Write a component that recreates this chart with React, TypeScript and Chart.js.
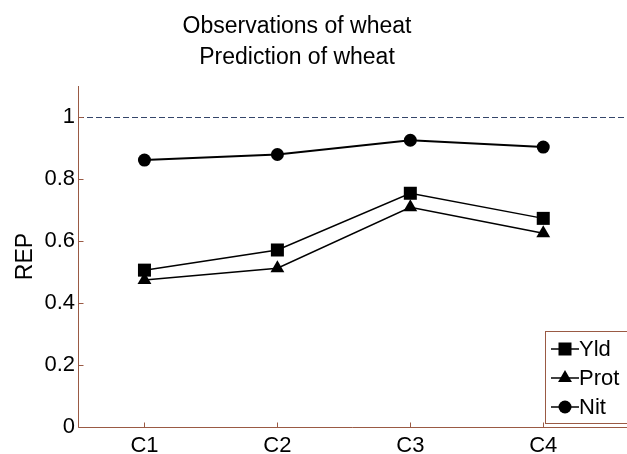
import React, { useEffect, useRef } from "react";
import { Chart, registerables } from "chart.js";

Chart.register(...registerables);

const titleLines = ["Observations of wheat", "Prediction of wheat"];
const categories = ["C1", "C2", "C3", "C4"];
const yld = [0.506, 0.571, 0.754, 0.673];
const prot = [0.474, 0.512, 0.709, 0.625];
const nit = [0.861, 0.879, 0.925, 0.903];
const yTicks = [0, 0.2, 0.4, 0.6, 0.8, 1];
const refLine = 1;
const yLabel = "REP";

const AXIS_COLOR = "#9a5a44";
const FONT = "'Liberation Sans', Arial, sans-serif";

function drawMarker(ctx: CanvasRenderingContext2D, style: string, x: number, y: number) {
  ctx.beginPath();
  if (style === "rect") {
    ctx.rect(x - 6.5, y - 6.5, 13, 13);
  } else if (style === "triangle") {
    const r = 8;
    ctx.moveTo(x, y - r);
    ctx.lineTo(x + r * 0.866, y + r * 0.5);
    ctx.lineTo(x - r * 0.866, y + r * 0.5);
    ctx.closePath();
  } else {
    ctx.arc(x, y, 6.5, 0, Math.PI * 2);
  }
  ctx.fill();
}

const decorPlugin = {
  id: "decor",
  beforeDatasetsDraw(chart: any) {
    const { ctx, chartArea } = chart;
    const ys = chart.scales.y;
    const yy = ys.getPixelForValue(refLine);
    ctx.save();
    ctx.strokeStyle = "#34456a";
    ctx.lineWidth = 1;
    ctx.setLineDash([6, 3]);
    ctx.beginPath();
    ctx.moveTo(chartArea.left, Math.round(yy) + 0.5);
    ctx.lineTo(chartArea.right, Math.round(yy) + 0.5);
    ctx.stroke();
    ctx.restore();
  },
  afterDraw(chart: any) {
    const { ctx, chartArea } = chart;
    const xs = chart.scales.x;
    const ys = chart.scales.y;
    ctx.save();
    // axes
    ctx.strokeStyle = AXIS_COLOR;
    ctx.lineWidth = 1;
    ctx.setLineDash([]);
    ctx.beginPath();
    const lx = Math.round(chartArea.left) + 0.5;
    const by = Math.round(chartArea.bottom) + 0.5;
    ctx.moveTo(lx, chartArea.top);
    ctx.lineTo(lx, by);
    ctx.lineTo(chartArea.right, by);
    ctx.stroke();
    // inward ticks
    ctx.beginPath();
    yTicks.forEach((v) => {
      const p = Math.round(ys.getPixelForValue(v)) + 0.5;
      ctx.moveTo(lx, p);
      ctx.lineTo(lx + 5, p);
    });
    categories.forEach((_, i) => {
      const p = Math.round(xs.getPixelForValue(i + 1)) + 0.5;
      ctx.moveTo(p, by);
      ctx.lineTo(p, by - 5);
    });
    ctx.stroke();

    // title
    ctx.fillStyle = "#000";
    ctx.font = `23px ${FONT}`;
    ctx.textAlign = "center";
    ctx.textBaseline = "alphabetic";
    ctx.fillText(titleLines[0], 297, 33);
    ctx.fillText(titleLines[1], 297, 64);

    // y label
    ctx.save();
    ctx.translate(32, (chartArea.top + chartArea.bottom) / 2);
    ctx.rotate(-Math.PI / 2);
    ctx.font = `23px ${FONT}`;
    ctx.textAlign = "center";
    ctx.textBaseline = "alphabetic";
    ctx.fillText(yLabel, 0, 0);
    ctx.restore();

    // legend
    const bx = 545.5, bt = 331.5, bb = 423.5;
    ctx.fillStyle = "#fff";
    ctx.fillRect(bx, bt, 700 - bx, bb - bt);
    ctx.strokeStyle = AXIS_COLOR;
    ctx.lineWidth = 1;
    ctx.strokeRect(bx, bt, 700 - bx, bb - bt);
    const ds = chart.data.datasets;
    const rowY = [349, 378, 407];
    ds.forEach((d: any, i: number) => {
      const y = rowY[i];
      ctx.strokeStyle = "#000";
      ctx.lineWidth = 1.5;
      ctx.beginPath();
      ctx.moveTo(551, y);
      ctx.lineTo(579, y);
      ctx.stroke();
      ctx.fillStyle = "#000";
      drawMarker(ctx, d.pointStyle, 565, y);
      ctx.font = `22px ${FONT}`;
      ctx.textAlign = "left";
      ctx.textBaseline = "middle";
      ctx.fillText(d.label, 579, y + 1);
    });
    ctx.restore();
  },
};

export default function App() {
  const ref = useRef<HTMLCanvasElement>(null);
  useEffect(() => {
    if (!ref.current) return;
    const mk = (vals: number[]) => vals.map((v, i) => ({ x: i + 1, y: v }));
    const chart = new Chart(ref.current, {
      type: "line",
      data: {
        datasets: [
          { label: "Yld", data: mk(yld), pointStyle: "rect", pointRadius: 9.2, borderWidth: 1.5 },
          { label: "Prot", data: mk(prot), pointStyle: "triangle", pointRadius: 8, borderWidth: 1.5 },
          { label: "Nit", data: mk(nit), pointStyle: "circle", pointRadius: 6.5, borderWidth: 2 },
        ].map((d) => ({
          ...d,
          borderColor: "#000",
          backgroundColor: "#000",
          pointBackgroundColor: "#000",
          pointBorderColor: "#000",
          pointBorderWidth: 0,
          pointHoverRadius: d.pointRadius,
          tension: 0,
          fill: false,
        })) as any,
      },
      options: {
        responsive: false,
        animation: false,
        layout: { autoPadding: false, padding: { top: 86, left: 0, right: 0, bottom: 0 } },
        plugins: { legend: { display: false }, title: { display: false }, tooltip: { enabled: false } },
        scales: {
          x: {
            type: "linear",
            min: 0.5,
            max: 4.63,
            grid: { display: false, drawTicks: false },
            border: { display: false },
            afterBuildTicks: (s: any) => {
              s.ticks = categories.map((_, i) => ({ value: i + 1 }));
            },
            afterFit: (s: any) => {
              s.height = 27;
              s.paddingLeft = 0;
              s.paddingRight = 0;
            },
            ticks: {
              color: "#000",
              font: { family: FONT, size: 22 },
              padding: 6,
              maxRotation: 0,
              autoSkip: false,
              callback: (v: any) => categories[Number(v) - 1] ?? "",
            },
          },
          y: {
            type: "linear",
            min: 0,
            max: 1.1,
            grid: { display: false, drawTicks: false },
            border: { display: false },
            afterBuildTicks: (s: any) => {
              s.ticks = yTicks.map((v) => ({ value: v }));
            },
            afterFit: (s: any) => {
              s.width = 78;
              s.paddingTop = 0;
              s.paddingBottom = 0;
            },
            ticks: {
              color: "#000",
              font: { family: FONT, size: 22 },
              padding: 3,
              callback: (v: any) => String(Math.round(Number(v) * 10) / 10),
            },
          },
        },
      },
      plugins: [decorPlugin],
    });
    return () => chart.destroy();
  }, []);
  return (
    <div style={{ position: "fixed", left: 0, top: 0, width: 627, height: 454, background: "#fff" }}>
      <canvas ref={ref} width={627} height={454} style={{ width: 627, height: 454, display: "block" }} />
    </div>
  );
}
